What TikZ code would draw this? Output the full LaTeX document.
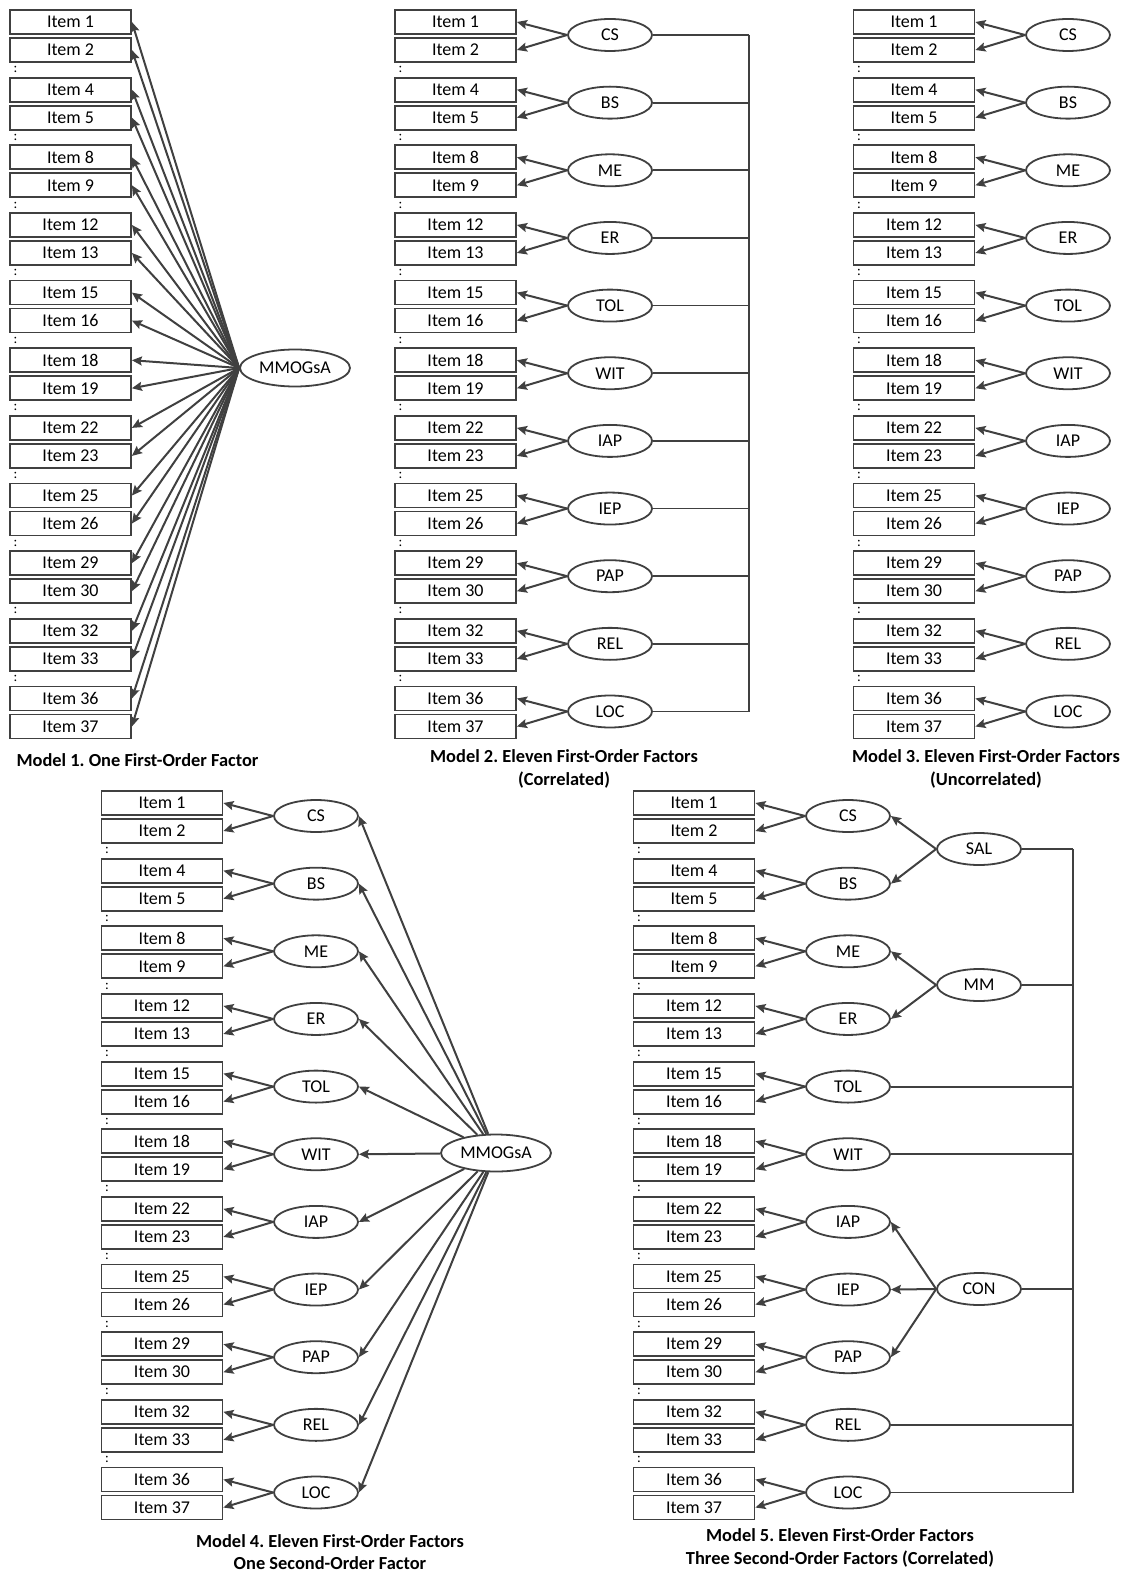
\documentclass[tikz,border=0pt]{standalone}
\usepackage{fontspec}
\setmainfont{Carlito}
\usetikzlibrary{shapes.geometric,arrows.meta}
\usepackage{xcolor}
\definecolor{ln}{HTML}{404040}
\tikzset{
    item/.style={rectangle, draw=ln, line width=0.9pt, minimum width=60.5pt, minimum height=12pt, inner sep=0pt},
    fac/.style={ellipse, draw=ln, line width=0.9pt, minimum width=42pt, minimum height=16pt, inner sep=0pt},
    gen/.style={fac, minimum width=55pt, minimum height=18.5pt},
    load/.style={draw=ln, line width=1pt, -{Stealth[length=5pt,width=4.5pt,inset=0.8pt]}},
    corr/.style={draw=ln, line width=0.9pt},
    caption/.style={font=\bfseries\fontsize{9.2}{11.2}\selectfont, align=center, inner sep=0pt},
    vdots/.style={inner sep=0pt, font=\fontsize{7}{7}\selectfont}
}
\newcommand{\pairlist}{1/2/CS,4/5/BS,8/9/ME,12/13/ER,15/16/TOL,18/19/WIT,22/23/IAP,25/26/IEP,29/30/PAP,32/33/REL,36/37/LOC}
\newcommand{\itemcol}[3] {
    \foreach \a/\b/\f [count=\i from 0] in \pairlist {
        \node[item] (#1i\a) at ({#2}, {#3+\i*67.65}) {Item \a};
        \node[item] (#1i\b) at ({#2}, {#3+\i*67.65+28}) {Item \b};
        \ifnum\i>0
            \node[vdots] at ({#2-55}, {#3+\i*67.65-20}) {:};
        \fi
    }
}
\newcommand{\faccol}[3] {
    \foreach \a/\b/\f [count=\i from 0] in \pairlist {
        \node[fac] (#1\f) at ({#2}, {#3+\i*67.65+13}) {\f};
        \draw[load] (#1\f.west) -- (#1i\a.east);
        \draw[load] (#1\f.west) -- (#1i\b.east);
    }
}
\frenchspacing

\begin{document}
\begin{tikzpicture}[x=0.5pt, y=-0.5pt, font=\fontsize{9}{11}\selectfont]
    \useasboundingbox (0,0) rectangle (1127,1572);

    \itemcol{m1}{70.5}{22}
    \node[gen] (m1g) at (295,368) {MMOGsA};
    \foreach \a/\b/\f in \pairlist {
        \draw[load] (m1g.west) -- (m1i\a.east);
        \draw[load] (m1g.west) -- (m1i\b.east);
    }
    \node[caption] (m1cap) at (137.5,760) {Model 1. One First-Order Factor};

    \itemcol{m2}{455.5}{22}
    \faccol{m2}{610}{22}
    \coordinate (m2bar) at (749,0);
    \foreach \a/\b/\f in \pairlist
        \draw[corr] (m2\f.east) -- (m2\f.east -| m2bar);
    \draw[corr] (m2bar |- m2CS) -- (m2bar |- m2LOC);
    \node[caption] (m2cap) at (564,769) {Model 2. Eleven First-Order Factors\\(Correlated)};

    \itemcol{m3}{914}{22}
    \faccol{m3}{1068}{22}
    \node[caption] (m3cap) at (986,769) {Model 3. Eleven First-Order Factors\\(Uncorrelated)};

    \itemcol{m4}{162}{803}
    \faccol{m4}{316}{803}
    \node[gen] (m4g) at (496,1153) {MMOGsA};
    \foreach \a/\b/\f in \pairlist
        \draw[load] (m4g) -- (m4\f.east);
    \node[caption] (m4cap) at (330,1552) {Model 4. Eleven First-Order Factors\\One Second-Order Factor};

    \itemcol{m5}{694}{803}
    \faccol{m5}{848}{803}
    \node[fac] (m5SAL) at (979,849) {SAL};
    \node[fac] (m5MM) at (979,985) {MM};
    \node[fac] (m5CON) at (979,1289) {CON};
    \foreach \s/\f in {SAL/CS,SAL/BS,MM/ME,MM/ER,CON/IAP,CON/IEP,CON/PAP}
        \draw[load] (m5\s.west) -- (m5\f.east);
    \coordinate (m5bar) at (1073,0);
    \foreach \f in {SAL,MM,TOL,WIT,CON,REL,LOC}
        \draw[corr] (m5\f.east) -- (m5\f.east -| m5bar);
    \draw[corr] (m5bar |- m5SAL) -- (m5bar |- m5LOC);
    \node[caption] (m5cap) at (840,1548) {Model 5. Eleven First-Order Factors\\Three Second-Order Factors (Correlated)};
\end{tikzpicture}
\end{document}
